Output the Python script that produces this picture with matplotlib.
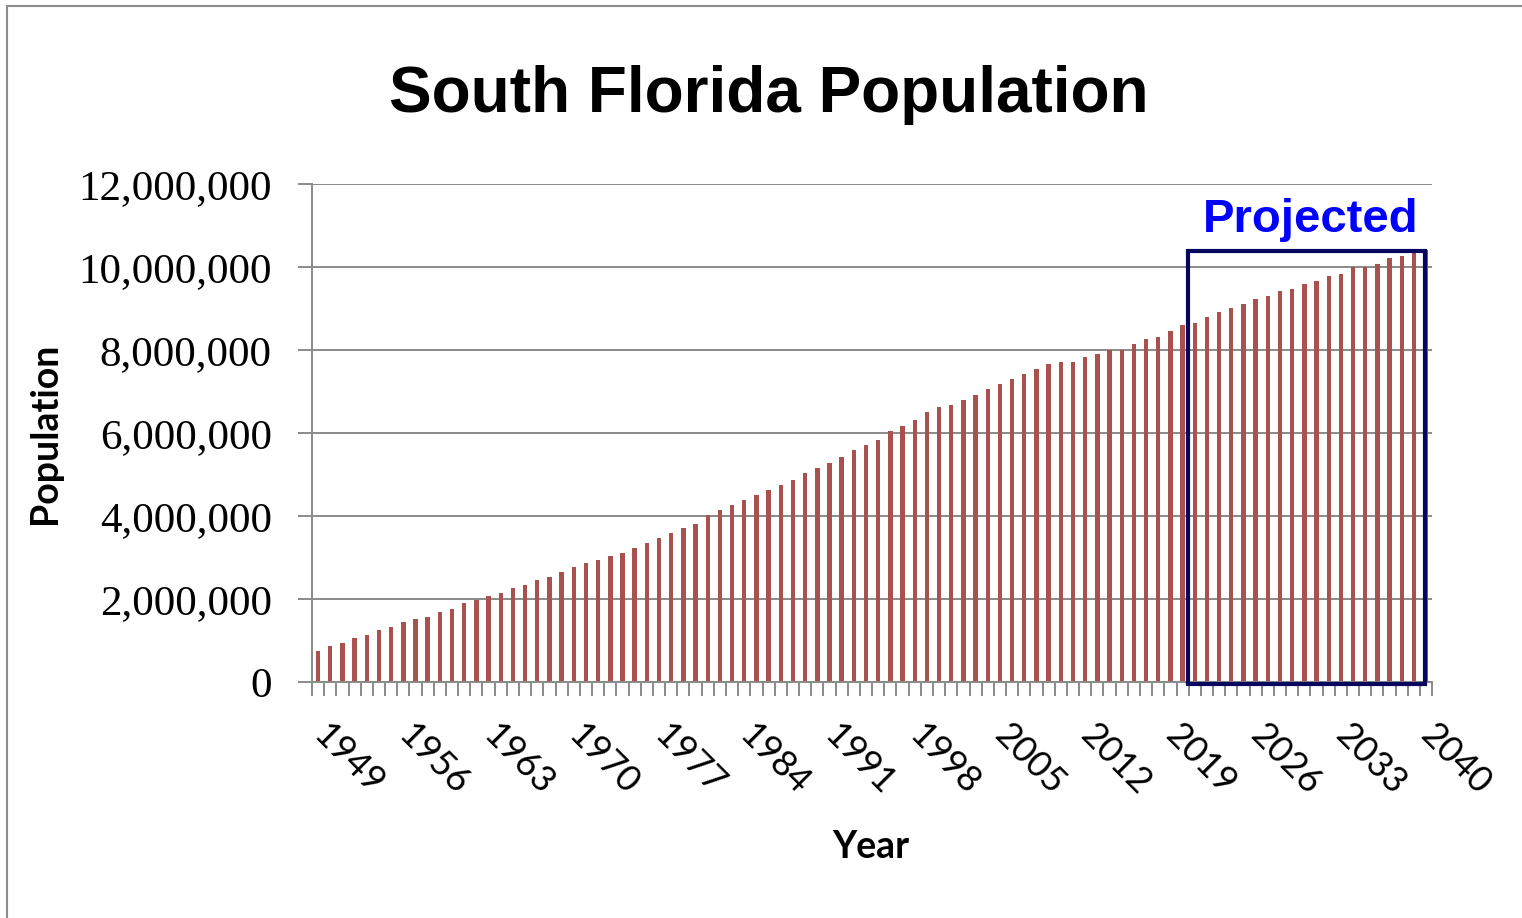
import matplotlib
matplotlib.use("Agg")
import matplotlib.pyplot as plt
import numpy as np
from matplotlib.patches import Rectangle
from matplotlib.ticker import FuncFormatter

# years shown on the chart (one bar per year)
years = list(range(1949, 2041))

# population, in millions
population_m = [
    0.76, 0.88, 0.95, 1.07, 1.14, 1.26, 1.32, 1.45, 1.51, 1.57,   # 1949-1958
    1.69, 1.76, 1.90, 1.98, 2.08, 2.15, 2.27, 2.33, 2.46, 2.52,   # 1959-1968
    2.64, 2.77, 2.87, 2.95, 3.04, 3.10, 3.22, 3.34, 3.46, 3.58,   # 1969-1978
    3.70, 3.82, 4.02, 4.14, 4.26, 4.38, 4.50, 4.62, 4.74, 4.86,   # 1979-1988
    5.04, 5.16, 5.28, 5.42, 5.60, 5.70, 5.84, 6.04, 6.17, 6.32,   # 1989-1998
    6.50, 6.62, 6.68, 6.80, 6.92, 7.06, 7.18, 7.30, 7.42, 7.54,   # 1999-2008
    7.66, 7.72, 7.72, 7.84, 7.90, 7.99, 7.99, 8.14, 8.26, 8.32,   # 2009-2018
    8.46, 8.60, 8.66, 8.80, 8.92, 9.00, 9.12, 9.24, 9.30, 9.42,   # 2019-2028
    9.48, 9.60, 9.66, 9.78, 9.84, 10.00, 10.00, 10.08, 10.21, 10.27,  # 2029-2038
    10.35, 10.42,                                                 # 2039-2040
]
population = [p * 1e6 for p in population_m]

# labelled years on the x axis
label_years = list(range(1949, 2041, 7))

# projected period framed by the box
proj_start = 2021
proj_end = 2040

bar_color = "#A8514F"
grid_color = "#8a8a8a"
box_color = "#06065e"

fig = plt.figure(figsize=(15.22, 9.18), dpi=100)
ax = fig.add_axes([0.205, 0.257, 0.736, 0.5426])

ax.bar(years, population, width=0.36, color=bar_color, zorder=2)

ax.set_xlim(years[0] - 0.5, years[-1] + 0.5)
ax.set_ylim(0, 12e6)

# y axis
ax.set_yticks(np.arange(0, 12e6 + 1, 2e6))
ax.yaxis.set_major_formatter(FuncFormatter(lambda v, p: "{:,}".format(int(v))))
ax.yaxis.grid(True, color=grid_color, lw=1.4, zorder=0)
ax.set_axisbelow(True)
ax.tick_params(axis="y", length=10, width=1.4, color=grid_color, pad=19,
               labelsize=31)
for lab in ax.get_yticklabels():
    lab.set_family("Liberation Serif")

# x axis: tick marks between categories, labels every 7 years
ax.set_xticks(label_years)
ax.set_xticks(np.arange(years[0] - 0.5, years[-1] + 1, 1), minor=True)
ax.tick_params(axis="x", which="major", length=0, pad=34, labelsize=26)
ax.tick_params(axis="x", which="minor", length=10, width=1.4, color=grid_color)
for lab in ax.get_xticklabels():
    lab.set_rotation(-45)
    lab.set_rotation_mode("anchor")
    lab.set_ha("left")
    lab.set_va("center")
    lab.set_family("Lato")

for s in ["top", "right"]:
    ax.spines[s].set_visible(False)
for s in ["left", "bottom"]:
    ax.spines[s].set_color(grid_color)
    ax.spines[s].set_linewidth(1.4)

# projection box
ax.add_patch(Rectangle((proj_start - 0.55, -0.05e6),
                       (proj_end - 0.1) - (proj_start - 0.55),
                       10.44e6, fill=False, ec=box_color, lw=3,
                       clip_on=False, zorder=5))
ax.text((proj_start + proj_end) / 2, 11.13e6, "Projected",
        ha="center", va="center", color="#0000FF", fontsize=34,
        fontweight="bold", family="Liberation Sans")

# titles
fig.text(0.505, 0.896, "South Florida Population", ha="center", va="center",
         fontsize=46, fontweight="bold", family="Liberation Sans")
fig.text(0.0296, 0.528, "Population", rotation=90, ha="center", va="center",
         fontsize=27, fontweight="bold", family="Lato")
fig.text(0.572, 0.077, "Year", ha="center", va="center",
         fontsize=27, fontweight="bold", family="Lato")

# outer frame (runs off the right and bottom edges)
fig.add_artist(Rectangle((7 / 1522, -0.01), 1.0, 1.01 - 6 / 918,
                         transform=fig.transFigure, fill=False,
                         ec="#8c8c8c", lw=1.5))

fig.savefig("out.png", dpi=100)
